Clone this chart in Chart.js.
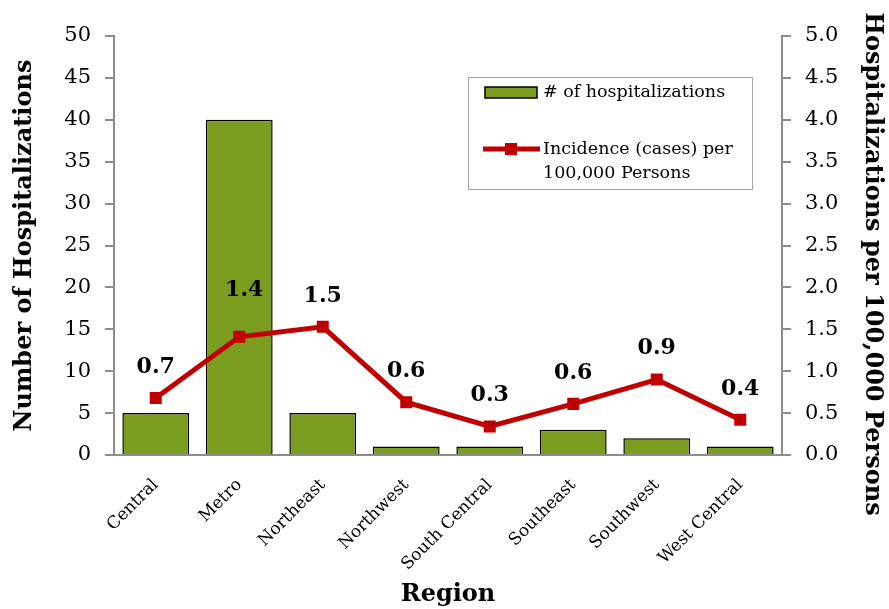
<!DOCTYPE html>
<html>
<head>
<meta charset="utf-8">
<script src="https://cdn.jsdelivr.net/npm/chart.js@4.4.0/dist/chart.umd.min.js"></script>
<style>
  html, body { margin: 0; padding: 0; background: #fff; }
  #wrap { width: 889px; height: 609px; position: relative; }
</style>
</head>
<body>
<div id="wrap"><canvas id="chart"></canvas></div>
<script>
'use strict';

// Hospitalizations by region, with incidence per 100,000 persons
const regions = ['Central', 'Metro', 'Northeast', 'Northwest', 'South Central', 'Southeast', 'Southwest', 'West Central'];
const hospitalizations = [5, 40, 5, 1, 1, 3, 2, 1];
const incidence = [0.68, 1.41, 1.53, 0.63, 0.34, 0.61, 0.90, 0.42];
const countAxisMax = 50;
const rateAxisMax = 5;

const BAR_GREEN = '#7a9c1f';
const LINE_RED = '#c00000';
const AXIS_GREY = '#8c8c8c';
const SERIF = '"DejaVu Serif", serif';

// Value labels sit above each marker; Metro's label was nudged higher
const labelLift = [31, 47, 31, 31, 31, 31, 31, 31];
const labelShift = [0, 5, 0, 0, 0, 0, 0, 0];

const valueLabels = {
  id: 'valueLabels',
  afterDatasetsDraw(chart) {
    const meta = chart.getDatasetMeta(1);
    const ctx = chart.ctx;
    ctx.save();
    ctx.font = 'bold 22px ' + SERIF;
    ctx.fillStyle = '#000';
    ctx.textAlign = 'center';
    ctx.textBaseline = 'middle';
    meta.data.forEach((pt, i) => {
      ctx.fillText(incidence[i].toFixed(1), pt.x + labelShift[i], pt.y - labelLift[i]);
    });
    ctx.restore();
  }
};

// Right-hand axis title, drawn a little below the axis centre
const rateTitle = {
  id: 'rateTitle',
  afterDraw(chart) {
    const ctx = chart.ctx;
    ctx.save();
    ctx.translate(872, 264);
    ctx.rotate(Math.PI / 2);
    ctx.font = 'bold 24px ' + SERIF;
    ctx.fillStyle = '#000';
    ctx.textAlign = 'center';
    ctx.textBaseline = 'middle';
    ctx.fillText('Hospitalizations per 100,000 Persons', 0, 0);
    ctx.restore();
  }
};

// Boxed legend in the upper right of the plot
const boxLegend = {
  id: 'boxLegend',
  afterDraw(chart) {
    const ctx = chart.ctx;
    const area = chart.chartArea;
    const x0 = area.right - 314;
    const y0 = area.top + 41;
    ctx.save();
    ctx.fillStyle = '#fff';
    ctx.fillRect(x0, y0, 284, 112);
    ctx.strokeStyle = '#a6a6a6';
    ctx.lineWidth = 1;
    ctx.strokeRect(x0 + 0.5, y0 + 0.5, 284, 112);

    // bar swatch
    ctx.fillStyle = BAR_GREEN;
    ctx.fillRect(x0 + 17, y0 + 10, 52, 11);
    ctx.strokeStyle = '#000';
    ctx.lineWidth = 1.5;
    ctx.strokeRect(x0 + 17, y0 + 10, 52, 11);

    // line swatch with square marker
    ctx.strokeStyle = LINE_RED;
    ctx.lineWidth = 5;
    ctx.beginPath();
    ctx.moveTo(x0 + 15, y0 + 72);
    ctx.lineTo(x0 + 72, y0 + 72);
    ctx.stroke();
    ctx.fillStyle = LINE_RED;
    ctx.fillRect(x0 + 37, y0 + 66, 12, 12);

    ctx.fillStyle = '#000';
    ctx.font = '17.5px ' + SERIF;
    ctx.textAlign = 'left';
    ctx.textBaseline = 'middle';
    ctx.fillText('# of hospitalizations', x0 + 75, y0 + 15);
    ctx.fillText('Incidence (cases) per', x0 + 75, y0 + 72);
    ctx.fillText('100,000 Persons', x0 + 75, y0 + 96);
    ctx.restore();
  }
};

const chart = new Chart(document.getElementById('chart'), {
  data: {
    labels: regions,
    datasets: [
      {
        type: 'bar',
        label: '# of hospitalizations',
        data: hospitalizations,
        yAxisID: 'yCount',
        backgroundColor: BAR_GREEN,
        borderColor: '#000',
        borderWidth: 1.5,
        categoryPercentage: 1,
        barPercentage: 0.8,
        order: 2
      },
      {
        type: 'line',
        label: 'Incidence (cases) per 100,000 Persons',
        data: incidence,
        yAxisID: 'yRate',
        borderColor: LINE_RED,
        backgroundColor: LINE_RED,
        borderWidth: 5,
        pointStyle: 'rect',
        pointRadius: 8.5,
        pointBorderWidth: 0,
        tension: 0,
        order: 1
      }
    ]
  },
  options: {
    responsive: true,
    maintainAspectRatio: false,
    animation: false,
    layout: { padding: { top: 36, left: 0, right: 0, bottom: 0 } },
    plugins: {
      legend: { display: false },
      tooltip: { enabled: false }
    },
    scales: {
      x: {
        grid: { display: false, drawTicks: false },
        border: { color: AXIS_GREY, width: 2 },
        ticks: {
          color: '#000',
          font: { family: SERIF, size: 17 },
          minRotation: 45,
          maxRotation: 45,
          padding: 20
        },
        title: {
          display: true,
          text: 'Region',
          color: '#000',
          font: { family: SERIF, size: 24, weight: 'bold' },
          padding: { top: 0, bottom: 0 }
        },
        afterFit(scale) { scale.height = 154; }
      },
      yCount: {
        position: 'left',
        min: 0,
        max: countAxisMax,
        ticks: {
          stepSize: 5,
          color: '#000',
          font: { family: SERIF, size: 21 },
          padding: 14
        },
        grid: { drawOnChartArea: false, color: AXIS_GREY, tickLength: 9, lineWidth: 2 },
        border: { color: AXIS_GREY, width: 2 },
        title: {
          display: true,
          text: 'Number of Hospitalizations',
          color: '#000',
          font: { family: SERIF, size: 24, weight: 'bold' },
          padding: { top: 10, bottom: 0 }
        },
        afterFit(scale) { scale.width = 114; }
      },
      yRate: {
        position: 'right',
        min: 0,
        max: rateAxisMax,
        ticks: {
          stepSize: 0.5,
          color: '#000',
          font: { family: SERIF, size: 21 },
          padding: 14,
          callback: (v) => Number(v).toFixed(1)
        },
        grid: { drawOnChartArea: false, color: AXIS_GREY, tickLength: 9, lineWidth: 2 },
        border: { color: AXIS_GREY, width: 2 },
        afterFit(scale) { scale.width = 107; }
      }
    }
  },
  plugins: [valueLabels, rateTitle, boxLegend]
});
</script>
</body>
</html>
